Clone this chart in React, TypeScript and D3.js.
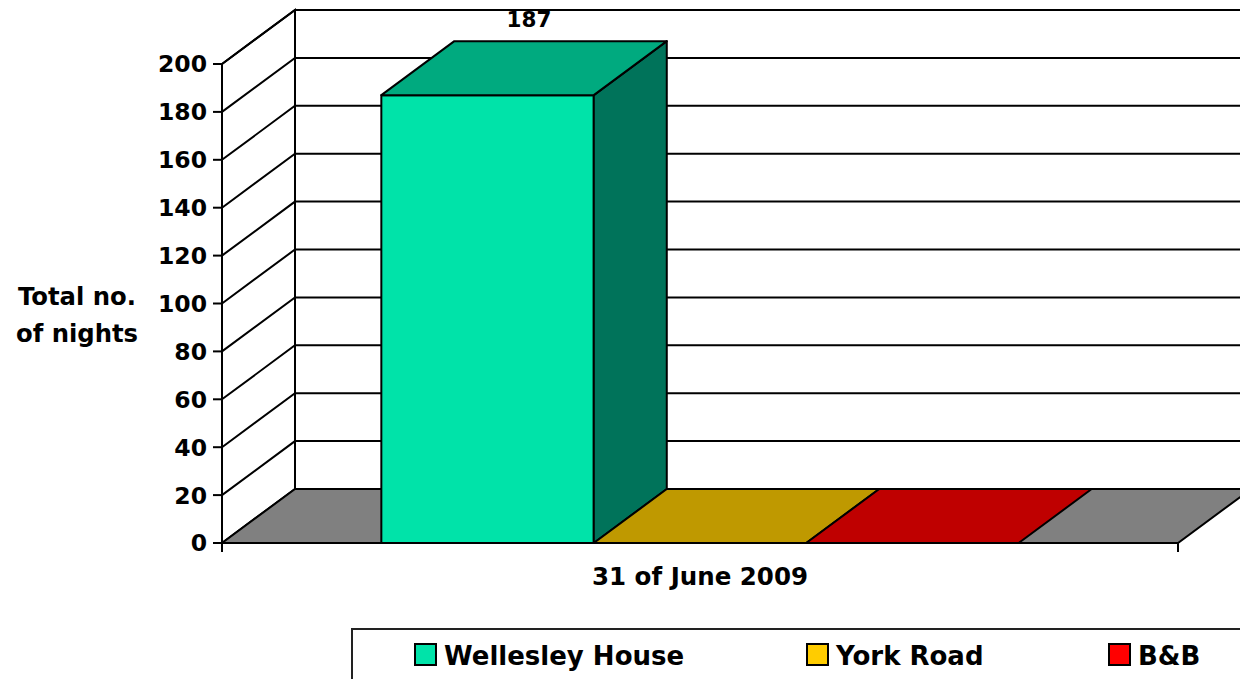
import * as d3 from "d3";

const seriesNames = ["Wellesley House", "York Road", "B&B"];
const seriesValues = [187, 0, 0];
const categoryLabel = "31 of June 2009";
const frontColors = ["#00e3a9", "#ffcc00", "#ff0000"];
const topColors = ["#00aa7f", "#bf9900", "#bf0000"];
const sideColors = ["#00735a", "#806600", "#800000"];
const yTitle = ["Total no.", "of nights"];

const W = 1240;
const H = 679;
const font = "'DejaVu Sans', Verdana, sans-serif";

export default function App() {
  // plot geometry (front plane + depth offset)
  const left = 222;
  const right = 1178;
  const dx = 73;
  const dy = -54;

  const y = d3.scaleLinear().domain([0, 200]).range([543, 64]);
  const x = d3
    .scaleBand()
    .domain(seriesNames)
    .range([left, right])
    .paddingInner(0)
    .paddingOuter(0.75);
  const bw = x.bandwidth();
  const ticks = y.ticks(10);

  const pts = (p: number[][]) => p.map((d) => d.join(",")).join(" ");
  const y0 = y(0);

  return (
    <div style={{ position: "absolute", left: 0, top: 0 }}>
      <svg width={W} height={H} style={{ display: "block" }}>
        <rect width={W} height={H} fill="#fff" />
        {/* back wall */}
        <rect
          x={left + dx}
          y={y(200) + dy}
          width={right - left}
          height={y0 - y(200)}
          fill="#fff"
          stroke="#000"
          strokeWidth={2}
        />
        {/* side wall */}
        <polygon
          points={pts([
            [left, y(200)],
            [left + dx, y(200) + dy],
            [left + dx, y0 + dy],
            [left, y0],
          ])}
          fill="#fff"
          stroke="#000"
          strokeWidth={2}
        />
        {/* gridlines */}
        {ticks
          .filter((t) => t > 0)
          .map((t) => (
            <polyline
              key={t}
              points={pts([
                [left, y(t)],
                [left + dx, y(t) + dy],
                [right + dx, y(t) + dy],
              ])}
              fill="none"
              stroke="#000"
              strokeWidth={2}
            />
          ))}
        {/* floor */}
        <polygon
          points={pts([
            [left, y0],
            [right, y0],
            [right + dx, y0 + dy],
            [left + dx, y0 + dy],
          ])}
          fill="#808080"
          stroke="#000"
          strokeWidth={2}
        />
        {/* bars */}
        {seriesNames.map((s, i) => {
          const x0 = x(s) as number;
          const x1 = x0 + bw;
          const yt = y(seriesValues[i]);
          return (
            <g key={s} stroke="#000" strokeWidth={2} strokeLinejoin="round">
              {seriesValues[i] > 0 && (
                <>
                  <rect x={x0} y={yt} width={bw} height={y0 - yt} fill={frontColors[i]} />
                  <polygon
                    points={pts([
                      [x1, yt],
                      [x1 + dx, yt + dy],
                      [x1 + dx, y0 + dy],
                      [x1, y0],
                    ])}
                    fill={sideColors[i]}
                  />
                </>
              )}
              <polygon
                points={pts([
                  [x0, yt],
                  [x1, yt],
                  [x1 + dx, yt + dy],
                  [x0 + dx, yt + dy],
                ])}
                fill={topColors[i]}
              />
            </g>
          );
        })}
        {/* data label */}
        {seriesValues.map((v, i) =>
          v > 0 ? (
            <text
              key={i}
              x={(x(seriesNames[i]) as number) + bw / 2 + dx / 2 + 5}
              y={y(v) + dy - 14}
              textAnchor="middle"
              fontFamily={font}
              fontWeight="bold"
              fontSize={21.5}
            >
              {v}
            </text>
          ) : null
        )}
        {/* y axis */}
        <line x1={left} x2={left} y1={y(200)} y2={y0 + 9} stroke="#000" strokeWidth={2} />
        <line x1={left} x2={right} y1={y0} y2={y0} stroke="#000" strokeWidth={2} />
        <line x1={right} x2={right} y1={y0} y2={y0 + 9} stroke="#000" strokeWidth={2} />
        {ticks.map((t) => (
          <g key={t}>
            <line x1={left - 9} x2={left} y1={y(t)} y2={y(t)} stroke="#000" strokeWidth={2} />
            <text
              x={207}
              y={y(t)}
              dy="0.36em"
              textAnchor="end"
              fontFamily={font}
              fontWeight="bold"
              fontSize={23.5}
            >
              {t}
            </text>
          </g>
        ))}
        {yTitle.map((l, i) => (
          <text
            key={l}
            x={77}
            y={305 + i * 37}
            textAnchor="middle"
            fontFamily={font}
            fontWeight="bold"
            fontSize={24.3}
          >
            {l}
          </text>
        ))}
        <text
          x={(left + right) / 2}
          y={585}
          textAnchor="middle"
          fontFamily={font}
          fontWeight="bold"
          fontSize={24.5}
        >
          {categoryLabel}
        </text>
        {/* legend */}
        <rect x={352} y={629} width={1000} height={100} fill="#fff" stroke="#222" strokeWidth={2} />
        {seriesNames.map((s, i) => {
          const lx = [415, 807, 1109][i];
          return (
            <g key={s}>
              <rect x={lx} y={644} width={21} height={21} fill={frontColors[i]} stroke="#000" strokeWidth={2} />
              <text x={lx + 29} y={665} fontFamily={font} fontWeight="bold" fontSize={26}>
                {s}
              </text>
            </g>
          );
        })}
      </svg>
    </div>
  );
}
